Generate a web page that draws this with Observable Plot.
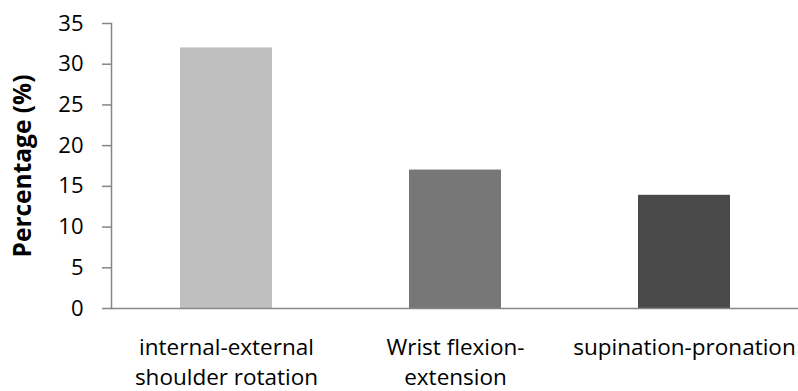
<!DOCTYPE html>
<html>
<head>
<meta charset="utf-8">
<script src="https://cdn.jsdelivr.net/npm/d3@7"></script>
<script src="https://cdn.jsdelivr.net/npm/@observablehq/plot@0.6"></script>
<style>
  html, body { margin: 0; padding: 0; background: #fff; }
  #chart svg { font-family: "Open Sans", sans-serif; }
</style>
</head>
<body>
<div id="chart"></div>
<script>
const categories = ["internal-external\nshoulder rotation", "Wrist flexion-\nextension", "supination-pronation"];
const values = [32, 17, 13.9];
const colors = ["#bfbfbf", "#777777", "#4a4a4a"];
const yTicks = [0, 5, 10, 15, 20, 25, 30, 35];

const data = categories.map((c, i) => ({category: c, value: values[i], color: colors[i]}));

const chart = Plot.plot({
  width: 798,
  height: 391,
  marginLeft: 111,
  marginRight: 0,
  marginTop: 23,
  marginBottom: 83,
  style: {fontFamily: "'Open Sans', sans-serif", background: "#fff", color: "#000"},
  x: {domain: categories, paddingInner: 0.6, paddingOuter: 0.3},
  y: {domain: [0, 35]},
  marks: [
    Plot.barY(data, {x: "category", y: "value", fill: "color"}),
    Plot.frame({anchor: "left", stroke: "#868686", strokeWidth: 1.5, strokeOpacity: 1}),
    Plot.frame({anchor: "bottom", stroke: "#868686", strokeWidth: 1.5, strokeOpacity: 1}),
    Plot.axisY({ticks: yTicks, tickSize: 9, tickPadding: 19, stroke: "#868686", strokeWidth: 1.5, strokeOpacity: 1,
      fontSize: 22, label: "Percentage (%)", labelAnchor: "center", labelArrow: "none", labelOffset: 98}),
    Plot.axisX({tickSize: 0, tickPadding: 26, fontSize: 22.5, lineHeight: 1.3, label: null})
  ]
});
document.getElementById("chart").appendChild(chart);
chart.querySelectorAll('g[aria-label="y-axis label"] text').forEach(e => { e.style.fontWeight = "bold"; e.style.fontSize = "24.5px"; });
</script>
</body>
</html>
